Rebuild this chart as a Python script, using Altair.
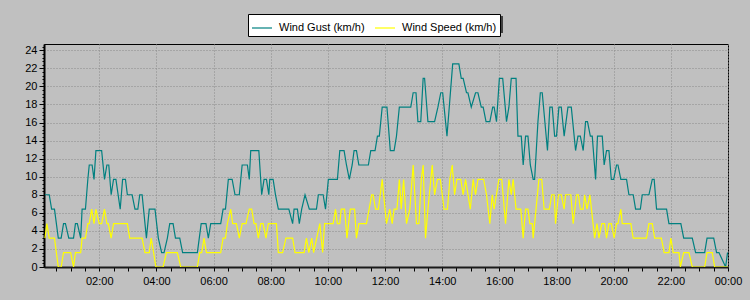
import altair as alt
import pandas as pd

# minutes after midnight / km/h values
gust_min = [6, 15, 20, 26, 34, 40, 45, 49, 56, 66,
            70, 74, 81, 84, 91, 96, 99, 105, 109, 113,
            125, 131, 136, 140, 145, 150, 155, 164, 169, 175,
            179, 189, 195, 201, 205, 210, 219, 225, 237, 244,
            251, 256, 263, 268, 275, 280, 289, 295, 326, 334,
            344, 349, 354, 375, 380, 385, 391, 399, 405, 414,
            420, 431, 435, 438, 455, 461, 466, 471, 476, 478,
            485, 490, 496, 518, 526, 529, 536, 540, 545, 552,
            561, 576, 580, 590, 595, 601, 620, 625, 634, 639,
            645, 651, 655, 660, 665, 685, 690, 699, 704, 708,
            714, 724, 731, 739, 744, 750, 774, 779, 785, 789,
            795, 800, 803, 810, 824, 831, 837, 841, 844, 850,
            862, 875, 880, 884, 891, 894, 901, 910, 915, 922,
            926, 932, 940, 946, 949, 954, 960, 967, 975, 980,
            985, 995, 999, 1006, 1010, 1015, 1020, 1025, 1031, 1034,
            1041, 1046, 1050, 1061, 1066, 1071, 1076, 1080, 1085, 1090,
            1096, 1104, 1111, 1120, 1125, 1130, 1136, 1141, 1145, 1151,
            1155, 1162, 1166, 1176, 1180, 1185, 1190, 1195, 1200, 1206,
            1209, 1215, 1227, 1232, 1241, 1246, 1256, 1260, 1274, 1281,
            1285, 1290, 1311, 1316, 1341, 1347, 1365, 1372, 1391, 1396,
            1410, 1416, 1421, 1435, 1439]
gust_kmh = [8.0, 8.0, 6.4, 6.4, 3.2, 3.2, 4.8, 4.8, 3.2, 3.2,
            4.8, 4.8, 3.2, 6.4, 6.4, 9.7, 11.3, 11.3, 9.7, 12.9,
            12.9, 9.7, 11.3, 11.3, 8.0, 9.7, 9.7, 6.4, 9.7, 9.7,
            8.0, 8.0, 6.4, 6.4, 8.0, 8.0, 3.2, 6.4, 6.4, 3.2,
            1.6, 1.6, 3.2, 4.8, 4.8, 3.2, 3.2, 1.6, 1.6, 4.8,
            4.8, 3.2, 4.8, 4.8, 6.4, 6.4, 9.7, 9.7, 8.0, 8.0,
            11.3, 11.3, 9.7, 12.9, 12.9, 8.0, 9.7, 9.7, 8.0, 9.7,
            9.7, 8.0, 6.4, 6.4, 4.8, 6.4, 6.4, 4.8, 6.4, 8.0,
            6.4, 6.4, 8.0, 8.0, 6.4, 9.7, 9.7, 12.9, 12.9, 11.3,
            9.7, 11.3, 12.9, 12.9, 11.3, 11.3, 12.9, 12.9, 14.5, 14.5,
            17.7, 17.7, 12.9, 12.9, 14.5, 17.7, 17.7, 19.3, 19.3, 16.1,
            16.1, 20.9, 20.9, 16.1, 16.1, 17.7, 19.3, 19.3, 17.7, 14.5,
            22.5, 22.5, 20.9, 20.9, 19.3, 19.3, 17.7, 19.3, 19.3, 17.7,
            17.7, 16.1, 16.1, 17.7, 17.7, 16.1, 20.9, 20.9, 16.1, 17.7,
            20.9, 20.9, 14.5, 14.5, 11.3, 14.5, 14.5, 11.3, 9.7, 9.7,
            16.1, 19.3, 19.3, 12.9, 17.7, 17.7, 14.5, 14.5, 17.7, 17.7,
            14.5, 17.7, 17.7, 12.9, 14.5, 14.5, 12.9, 16.1, 16.1, 14.5,
            14.5, 9.7, 14.5, 14.5, 11.3, 12.9, 12.9, 9.7, 9.7, 11.3,
            11.3, 9.7, 9.7, 8.0, 8.0, 6.4, 6.4, 8.0, 8.0, 9.7,
            9.7, 6.4, 6.4, 4.8, 4.8, 3.2, 3.2, 1.6, 1.6, 3.2,
            3.2, 1.6, 1.6, 0.0, 1.6]

speed_min = [6, 10, 15, 26, 34, 40, 45, 60, 66, 70,
             81, 84, 91, 96, 99, 104, 109, 113, 120, 125,
             131, 136, 139, 145, 150, 179, 184, 210, 216, 225,
             229, 239, 254, 261, 284, 291, 326, 331, 335, 340,
             345, 375, 380, 385, 389, 396, 400, 408, 414, 420,
             428, 435, 440, 445, 449, 454, 459, 464, 470, 475,
             492, 496, 505, 512, 526, 531, 550, 555, 560, 566,
             570, 583, 589, 593, 611, 616, 620, 625, 628, 635,
             640, 647, 656, 660, 665, 681, 692, 695, 700, 706,
             714, 723, 730, 735, 739, 745, 750, 754, 759, 765,
             772, 779, 786, 791, 796, 800, 805, 810, 819, 824,
             830, 836, 844, 851, 856, 861, 866, 871, 879, 884,
             889, 899, 905, 910, 915, 927, 933, 940, 945, 949,
             959, 965, 973, 980, 985, 989, 995, 1005, 1010, 1015,
             1020, 1024, 1029, 1031, 1043, 1049, 1054, 1065, 1070, 1075,
             1078, 1084, 1090, 1096, 1099, 1110, 1115, 1122, 1126, 1130,
             1136, 1139, 1144, 1150, 1160, 1165, 1169, 1175, 1181, 1185,
             1190, 1195, 1201, 1206, 1209, 1215, 1218, 1236, 1241, 1269,
             1274, 1281, 1286, 1300, 1306, 1316, 1320, 1325, 1337, 1340,
             1347, 1358, 1365, 1391, 1396, 1407, 1412, 1440]
speed_kmh = [3.2, 4.8, 3.2, 3.2, 0.0, 0.0, 1.6, 1.6, 0.0, 1.6,
             1.6, 3.2, 3.2, 4.8, 4.8, 6.4, 4.8, 6.4, 4.8, 4.8,
             6.4, 4.8, 4.8, 3.2, 4.8, 4.8, 3.2, 3.2, 1.6, 1.6,
             3.2, 0.0, 0.0, 1.6, 1.6, 0.0, 0.0, 1.6, 1.6, 3.2,
             1.6, 1.6, 3.2, 3.2, 4.8, 6.4, 4.8, 4.8, 3.2, 4.8,
             4.8, 6.4, 6.4, 4.8, 4.8, 3.2, 4.8, 4.8, 3.2, 4.8,
             4.8, 1.6, 1.6, 3.2, 3.2, 1.6, 1.6, 3.2, 1.6, 3.2,
             1.6, 4.8, 1.6, 4.8, 4.8, 6.4, 4.8, 4.8, 6.4, 6.4,
             3.2, 6.4, 6.4, 3.2, 4.8, 4.8, 8.0, 8.0, 6.4, 6.4,
             9.7, 4.8, 6.4, 4.8, 6.4, 6.4, 9.7, 6.4, 9.7, 4.8,
             6.4, 11.3, 4.8, 4.8, 9.7, 11.3, 3.2, 6.4, 11.3, 8.0,
             9.7, 9.7, 6.4, 6.4, 9.7, 11.3, 8.0, 9.7, 9.7, 8.0,
             9.7, 6.4, 9.7, 8.0, 9.7, 9.7, 8.0, 4.8, 8.0, 6.4,
             9.7, 9.7, 4.8, 9.7, 8.0, 9.7, 6.4, 6.4, 3.2, 6.4,
             6.4, 4.8, 4.8, 3.2, 9.7, 9.7, 6.4, 6.4, 8.0, 8.0,
             4.8, 8.0, 8.0, 6.4, 8.0, 8.0, 4.8, 8.0, 8.0, 6.4,
             6.4, 8.0, 6.4, 8.0, 3.2, 4.8, 3.2, 4.8, 4.8, 3.2,
             4.8, 4.8, 3.2, 4.8, 4.8, 6.4, 4.8, 4.8, 3.2, 3.2,
             4.8, 4.8, 3.2, 3.2, 1.6, 1.6, 3.2, 1.6, 1.6, 0.0,
             1.6, 1.6, 0.0, 0.0, 1.6, 1.6, 0.0, 0.0]

assert len(gust_min) == len(gust_kmh)
assert len(speed_min) == len(speed_kmh)

series_names = ["Wind Gust (km/h)", "Wind Speed (km/h)"]
series_colors = ["#008080", "#ffff00"]

x_ticks = list(range(30, 1441, 30))           # minor ticks every 30 min
y_ticks = [round(i * 0.4, 1) for i in range(62)]  # minor ticks every 0.4

rows = []
for m, v in zip(gust_min, gust_kmh):
    rows.append({"t": m, "v": v, "s": series_names[0], "o": 0})
for m, v in zip(speed_min, speed_kmh):
    rows.append({"t": m, "v": v, "s": series_names[1], "o": 1})
df = pd.DataFrame(rows)

FONT = "Liberation Sans"

x_major = "datum.value % 120 == 0"
y_major = "abs(datum.value / 2 - round(datum.value / 2)) < 0.01"

x_axis = alt.Axis(
    values=x_ticks,
    labelExpr=(x_major + " ? ((floor(datum.value / 60) % 24 < 10 ? '0' : '') + "
               "(floor(datum.value / 60) % 24) + ':00') : ''"),
    grid=True,
    gridColor="#8a8a8a",
    gridDash=[1, 2],
    gridOpacity={"condition": {"test": x_major, "value": 1}, "value": 0},
    tickSize=4,
    tickColor="#000000",
    domainColor="#1a1a1a",
    domainWidth=2,
    labelPadding=4,
    labelFlush=False,
    labelOverlap=False,
    labelFont=FONT,
    labelFontSize=11,
    labelColor="#000000",
    title=None,
)

y_axis = alt.Axis(
    values=y_ticks,
    labelExpr=y_major + " ? format(round(datum.value), 'd') : ''",
    grid=True,
    gridColor="#8a8a8a",
    gridDash=[1, 2],
    gridOpacity={"condition": {"test": y_major, "value": 1}, "value": 0},
    tickSize={"condition": {"test": y_major, "value": 5}, "value": 2},
    tickColor="#000000",
    domainColor="#000000",
    domainWidth=2,
    labelPadding=2,
    labelOverlap=False,
    labelFont=FONT,
    labelFontSize=11,
    labelColor="#000000",
    title=None,
)

lines = alt.Chart(df).mark_line(strokeWidth=1.2, clip=True, interpolate="linear").encode(
    x=alt.X("t:Q", scale=alt.Scale(domain=[4, 1440], nice=False, zero=False), axis=x_axis),
    y=alt.Y("v:Q", scale=alt.Scale(domain=[0, 24.7], nice=False), axis=y_axis),
    color=alt.Color(
        "s:N",
        scale=alt.Scale(domain=series_names, range=series_colors),
        legend=alt.Legend(
            orient="none",
            legendX=204,
            legendY=-30,
            direction="horizontal",
            title=None,
            symbolType="stroke",
            symbolSize=400,
            symbolStrokeWidth=1.2,
            labelFont=FONT,
            labelFontSize=11,
            labelColor="#000000",
            fillColor="#ffffff",
            strokeColor="#000000",
            padding=3,
            labelOffset=6,
            columnPadding=7,
            zindex=1,
        ),
    ),
    order=alt.Order("o:Q"),
)

shadow = alt.Chart(alt.Data(values=[{"a": 1}])).mark_rect(color="#2a2a2a", opacity=0.85).encode(
    x=alt.value(207), x2=alt.value(459), y=alt.value(-28), y2=alt.value(-11)
)

chart = (
    alt.layer(shadow, lines)
    .properties(
        width=684,
        height=223,
        autosize="none",
        padding={"left": 44, "top": 44, "right": 22, "bottom": 33},
    )
    .configure(background="#c0c0c0")
    .configure_view(stroke="#000000", strokeWidth=1)
)

chart.save("out.html", embed_options={"renderer": "svg", "actions": False})
